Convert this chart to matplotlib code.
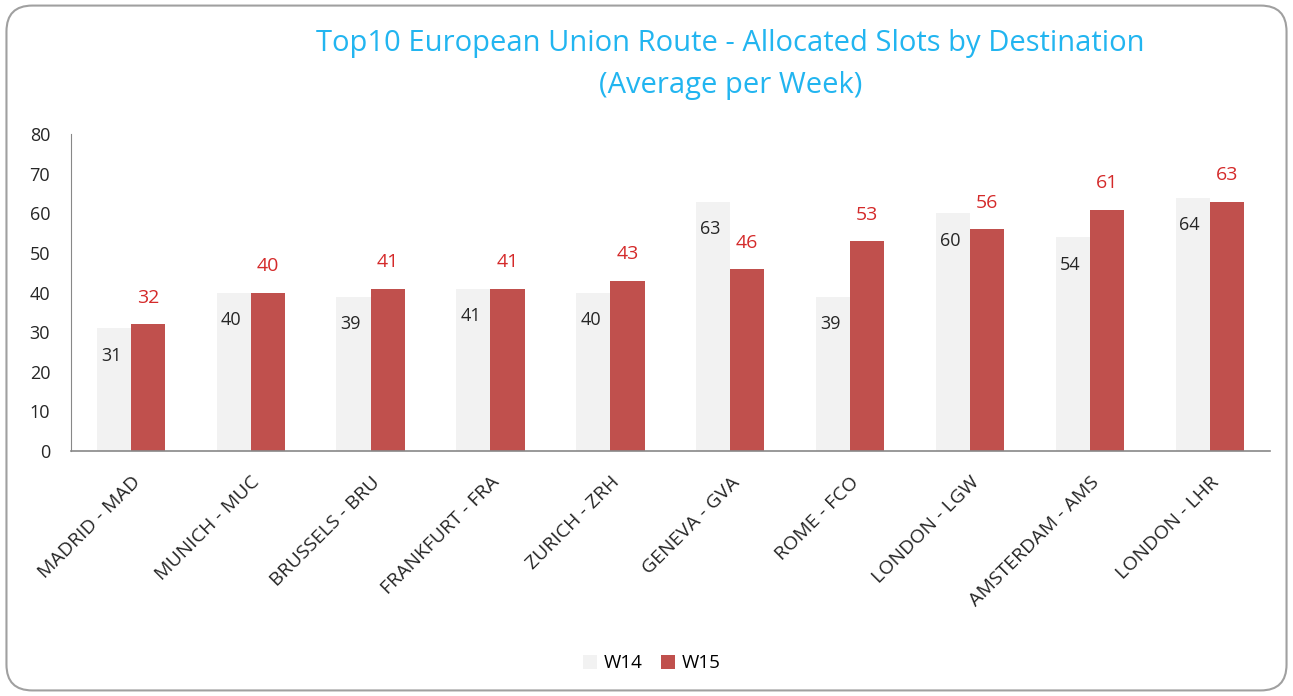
# Top10 EU routes - allocated slots per week, W14 vs W15
import numpy as np
import matplotlib.pyplot as plt
from matplotlib.patches import FancyBboxPatch, Patch

plt.rcParams['font.family'] = ['Open Sans', 'DejaVu Sans']

routes = ['MADRID - MAD', 'MUNICH - MUC', 'BRUSSELS - BRU', 'FRANKFURT - FRA',
          'ZURICH - ZRH', 'GENEVA - GVA', 'ROME - FCO', 'LONDON - LGW',
          'AMSTERDAM - AMS', 'LONDON - LHR']
w14 = [31, 40, 39, 41, 40, 63, 39, 60, 54, 64]
w15 = [32, 40, 41, 41, 43, 46, 53, 56, 61, 63]

c14 = '#f2f2f2'
c15 = '#c0504d'
title_color = '#22b5f0'

fig = plt.figure(figsize=(12.93, 6.96), dpi=100)
ax = fig.add_axes([0.0549, 0.352, 0.927, 0.455])

x = np.arange(len(routes))
bw = 0.285
b14 = ax.bar(x - bw / 2, w14, bw, color=c14, label='W14')
b15 = ax.bar(x + bw / 2, w15, bw, color=c15, label='W15')

for rect, v in zip(b14, w14):
    ax.annotate(str(v), (rect.get_x() + rect.get_width() / 2, v),
                xytext=(-2, -20), textcoords='offset points',
                ha='center', va='center', fontsize=13, color='#262626')
for rect, v in zip(b15, w15):
    ax.annotate(str(v), (rect.get_x() + rect.get_width() / 2, v),
                xytext=(0, 19), textcoords='offset points',
                ha='center', va='center', fontsize=14, color='#d42a2a')

ax.set_xlim(-0.5, len(routes) - 0.5)
ax.set_ylim(0, 80)
ax.set_yticks(range(0, 81, 10))
ax.set_xticks(x)
ax.set_xticklabels(routes, rotation=45, ha='right', rotation_mode='anchor',
                   fontsize=14, color='#262626')
ax.tick_params(axis='y', length=0, labelsize=13, labelcolor='#262626', pad=15)
ax.tick_params(axis='x', length=0, pad=16)
for s in ['top', 'right']:
    ax.spines[s].set_visible(False)
ax.spines['left'].set_color('#888888')
ax.spines['bottom'].set_color('#888888')
ax.spines['bottom'].set_linewidth(1.2)

fig.text(0.565, 0.937, 'Top10 European Union Route - Allocated Slots by Destination',
         ha='center', va='center', fontsize=21, color=title_color)
fig.text(0.565, 0.877, '(Average per Week)',
         ha='center', va='center', fontsize=21, color=title_color)

fig.legend(handles=[Patch(facecolor=c14, label='W14'), Patch(facecolor=c15, label='W15')],
           loc='center', bbox_to_anchor=(0.504, 0.047), ncol=2, frameon=False,
           fontsize=13.5, handlelength=0.75, handleheight=0.75, handletextpad=0.35,
           columnspacing=1.0)

# rounded outer border
border = FancyBboxPatch((0.005, 0.008), 0.99, 0.984,
                        boxstyle='round,pad=0,rounding_size=0.02',
                        transform=fig.transFigure, fill=False,
                        edgecolor='#a0a0a0', linewidth=1.5, mutation_aspect=1.86)
fig.patches.append(border)

fig.savefig('out.png', dpi=100, facecolor='white')
plt.close(fig)
